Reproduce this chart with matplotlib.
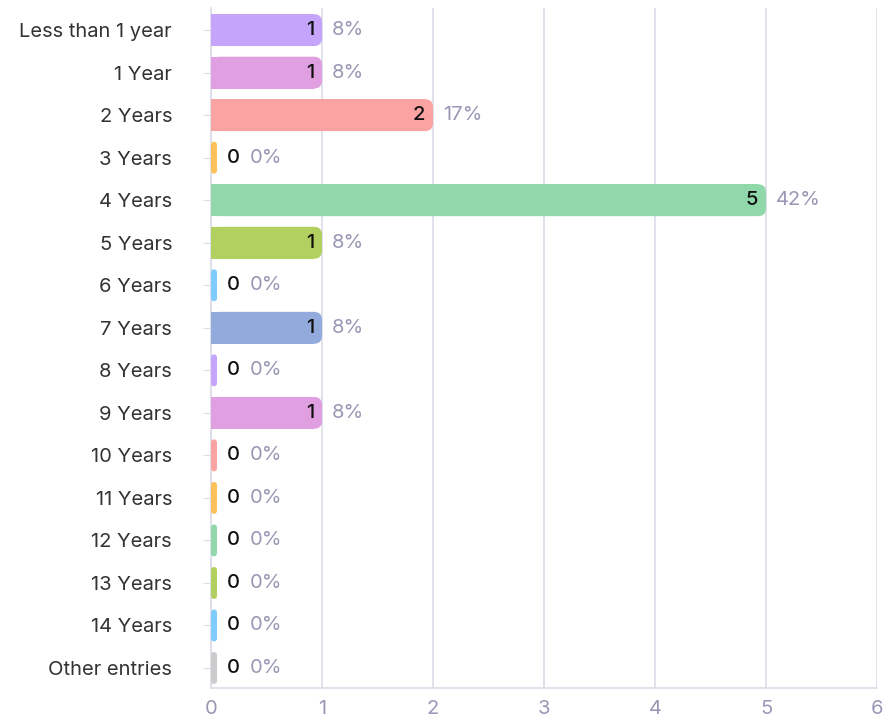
import matplotlib
matplotlib.use("Agg")
import matplotlib.pyplot as plt
from matplotlib.patches import FancyBboxPatch, Rectangle

categories = ["Less than 1 year", "1 Year", "2 Years", "3 Years", "4 Years", "5 Years",
              "6 Years", "7 Years", "8 Years", "9 Years", "10 Years", "11 Years",
              "12 Years", "13 Years", "14 Years", "Other entries"]
counts = [1, 1, 2, 0, 5, 1, 0, 1, 0, 1, 0, 0, 0, 0, 0, 0]
percents = ["8%", "8%", "17%", "0%", "42%", "8%", "0%", "8%", "0%", "8%",
            "0%", "0%", "0%", "0%", "0%", "0%"]
colors = ["#c4a5fb", "#e09fe0", "#fba3a3", "#fdc35a", "#90d8aa", "#b1d060",
          "#7fcbfb", "#92abdc", "#c4a5fb", "#e09fe0", "#fba3a3", "#fdc35a",
          "#90d8aa", "#b1d060", "#7fcbfb", "#cccccc"]
xticks = [0, 1, 2, 3, 4, 5, 6]

plt.rcParams['font.family'] = ['Inter', 'DejaVu Sans']
FS = 14.5

fig = plt.figure(figsize=(8.86, 7.24), dpi=100)
ax = fig.add_axes([211/886, 1-688/724, (877-211)/886, (688-8)/724])
ax.set_xlim(0, 6)
ax.set_ylim(15.47, -0.52)

px_x = 6/666.0
px_y = (15.47+0.52)/680.0
bar_h = 0.75
r_px = 8
stub = 6*px_x

for i, (v, c) in enumerate(zip(counts, colors)):
    w = v if v > 0 else stub
    rx = min(r_px*px_x, w/2)
    p = FancyBboxPatch((0, i-bar_h/2), w, bar_h,
                       boxstyle=f"round,pad=0,rounding_size={rx}",
                       mutation_aspect=px_y/px_x, fc=c, ec="none", zorder=3)
    ax.add_patch(p)
    if v > 0:
        ax.add_patch(Rectangle((0, i-bar_h/2), w - rx, bar_h, fc=c, ec="none",
                               zorder=3, antialiased=False))
        ax.text(v - 8*px_x, i, str(v), ha="right", va="center", fontsize=FS,
                color="#111111", fontweight="medium", zorder=4)
        ax.text(v + 10*px_x, i, percents[i], ha="left", va="center", fontsize=FS,
                color="#9898b4", zorder=4)
    else:
        ax.text(stub + 10*px_x, i, "0", ha="left", va="center", fontsize=FS,
                color="#111111", fontweight="medium", zorder=4)
        ax.text(stub + 33*px_x, i, percents[i], ha="left", va="center", fontsize=FS,
                color="#9898b4", zorder=4)

ax.set_yticks(range(len(categories)))
ax.set_yticklabels(categories, fontsize=FS, color="#333333")
ax.set_xticks(xticks)
ax.set_xticklabels([str(t) for t in xticks], fontsize=FS, color="#9898b4")
ax.tick_params(axis="y", length=6, color="#dcdce8", pad=22)
ax.tick_params(axis="x", length=0, pad=9)
ax.grid(axis="x", color="#dcdce8", linewidth=1.2, zorder=0)
ax.set_axisbelow(True)
for s in ["top", "right"]:
    ax.spines[s].set_visible(False)
ax.spines["left"].set_color("#dcdce8")
ax.spines["bottom"].set_color("#dcdce8")
ax.spines["left"].set_linewidth(1.2)
ax.spines["bottom"].set_linewidth(1.2)

fig.savefig("out.png", dpi=100)
